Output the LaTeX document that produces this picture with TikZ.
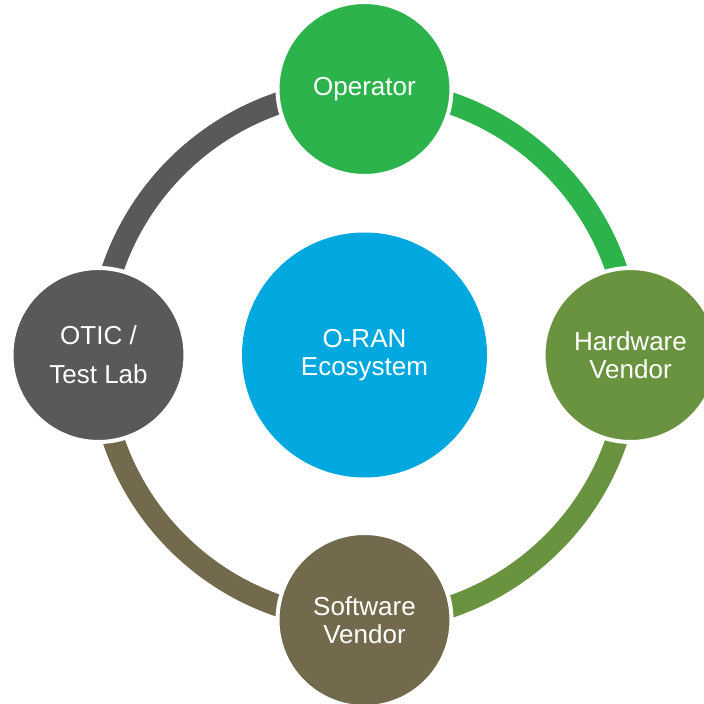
\documentclass[tikz,border=0pt]{standalone}
\usepackage{fontspec}
\setmainfont{Liberation Sans}
\usetikzlibrary{positioning, backgrounds}
\definecolor{opgreen}{RGB}{45,179,76}
\definecolor{hwgreen}{RGB}{106,147,64}
\definecolor{swbrown}{RGB}{115,106,78}
\definecolor{labgrey}{RGB}{89,89,89}
\definecolor{oranblue}{RGB}{0,168,224}
\tikzset{
    actor/.style = {circle, draw=white, line width=4pt, minimum size=174pt, inner sep=0pt, text=white, align=center, font=\fontsize{26}{28}\selectfont},
    hub/.style = {circle, fill=oranblue, minimum size=245pt, inner sep=0pt, text=white, align=center, font=\fontsize{26}{28}\selectfont},
    link/.style = {line width=22pt}
}

\begin{document}
\begin{tikzpicture}[x=1pt, y=1pt]
  \useasboundingbox (-364.5,-349) rectangle (339.5,355);
  \coordinate (O) at (0,0);

  \node[hub] (eco) at (O) {O-RAN\\Ecosystem};
  \node[actor, fill=opgreen] (op) at (90:266) {Operator};
  \node[actor, fill=hwgreen] (hw) at (0:266) {Hardware\\Vendor};
  \node[actor, fill=swbrown] (sw) at (-90:265) {Software\\Vendor};
  \node[actor, fill=labgrey] (lab) at (180:266) {OTIC /\\[11pt]Test Lab};

  % ring segments behind the circles
  \begin{scope}[on background layer]
    \draw[link, opgreen] (op.center) arc[start angle=90, end angle=0, radius=266];
    \draw[link, hwgreen] (hw.center) arc[start angle=0, end angle=-90, radius=266];
    \draw[link, swbrown] (sw.center) arc[start angle=-90, end angle=-180, radius=265];
    \draw[link, labgrey] (lab.center) arc[start angle=180, end angle=90, radius=266];
  \end{scope}
\end{tikzpicture}
\end{document}
